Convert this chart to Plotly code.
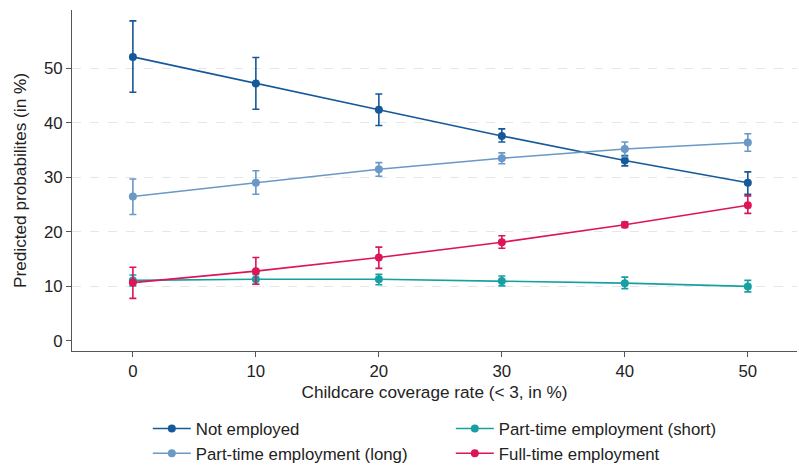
import plotly.graph_objects as go

# Childcare coverage rate (< 3, in %)
coverage = [0, 10, 20, 30, 40, 50]

# Predicted probabilities (in %) with 95% confidence bounds
not_employed = [52.1, 47.2, 42.4, 37.6, 33.1, 29.0]
not_employed_lo = [45.6, 42.5, 39.5, 36.5, 32.1, 26.9]
not_employed_hi = [58.7, 52.0, 45.3, 38.9, 34.0, 31.0]

pt_short = [11.1, 11.3, 11.3, 11.0, 10.6, 10.0]
pt_short_lo = [10.1, 10.4, 10.3, 10.1, 9.6, 9.0]
pt_short_hi = [12.1, 12.2, 12.2, 11.9, 11.7, 11.1]

pt_long = [26.5, 29.0, 31.5, 33.5, 35.2, 36.4]
pt_long_lo = [23.2, 26.9, 30.2, 32.5, 33.8, 34.8]
pt_long_hi = [29.7, 31.2, 32.7, 34.5, 36.5, 38.0]

full_time = [10.7, 12.8, 15.3, 18.1, 21.3, 24.9]
full_time_lo = [7.8, 10.4, 13.3, 17.0, 20.8, 23.4]
full_time_hi = [13.5, 15.3, 17.2, 19.3, 21.8, 26.6]

series = [
    ("Not employed", not_employed, not_employed_lo, not_employed_hi, "#15599a"),
    ("Part-time employment (short)", pt_short, pt_short_lo, pt_short_hi, "#17a0a3"),
    ("Part-time employment (long)", pt_long, pt_long_lo, pt_long_hi, "#6a98c7"),
    ("Full-time employment", full_time, full_time_lo, full_time_hi, "#dc1558"),
]

fig = go.Figure()
for name, est, lo, hi, color in series:
    fig.add_trace(go.Scatter(
        x=coverage, y=est, name=name, mode="lines+markers",
        line=dict(color=color, width=1.6),
        marker=dict(color=color, size=8),
        error_y=dict(
            type="data", symmetric=False,
            array=[h - e for h, e in zip(hi, est)],
            arrayminus=[e - l for e, l in zip(est, lo)],
            color=color, thickness=1.6, width=3.5,
        ),
    ))

family = "Liberation Sans, Arial, sans-serif"
fig.update_layout(
    width=799, height=466,
    margin=dict(l=72, r=2, t=10, b=115),
    paper_bgcolor="white", plot_bgcolor="white",
    font=dict(family=family, size=14, color="#222222"),
    showlegend=True,
    legend=dict(
        orientation="h", xref="container", yref="container",
        x=0.185, y=0.118, xanchor="left", yanchor="top",
        entrywidth=250, entrywidthmode="pixels",
        font=dict(family=family, size=16.8, color="#222222"),
        tracegroupgap=0, itemwidth=38,
    ),
    xaxis=dict(
        range=[-4.95, 54], tickvals=coverage, ticks="outside", ticklen=5,
        tickcolor="#555555", showline=True, linecolor="#555555", linewidth=1,
        showgrid=False, zeroline=False,
        title=dict(text="Childcare coverage rate (< 3, in %)", standoff=5,
                   font=dict(family=family, size=17.2, color="#222222")),
        tickfont=dict(family=family, size=16.8, color="#222222"),
    ),
    yaxis=dict(
        range=[-1.85, 60.7], tickvals=[0, 10, 20, 30, 40, 50], ticks="outside",
        ticklen=5, tickcolor="#555555", showline=True, linecolor="#555555",
        linewidth=1, showgrid=True, gridcolor="#e6e6e6", griddash="dash",
        gridwidth=1, zeroline=True, zerolinecolor="rgba(0,0,0,0)",
        title=dict(text="Predicted probabilites (in %)", standoff=12,
                   font=dict(family=family, size=17.2, color="#222222")),
        tickfont=dict(family=family, size=16.8, color="#222222"),
    ),
)

fig.write_html("out.html")
